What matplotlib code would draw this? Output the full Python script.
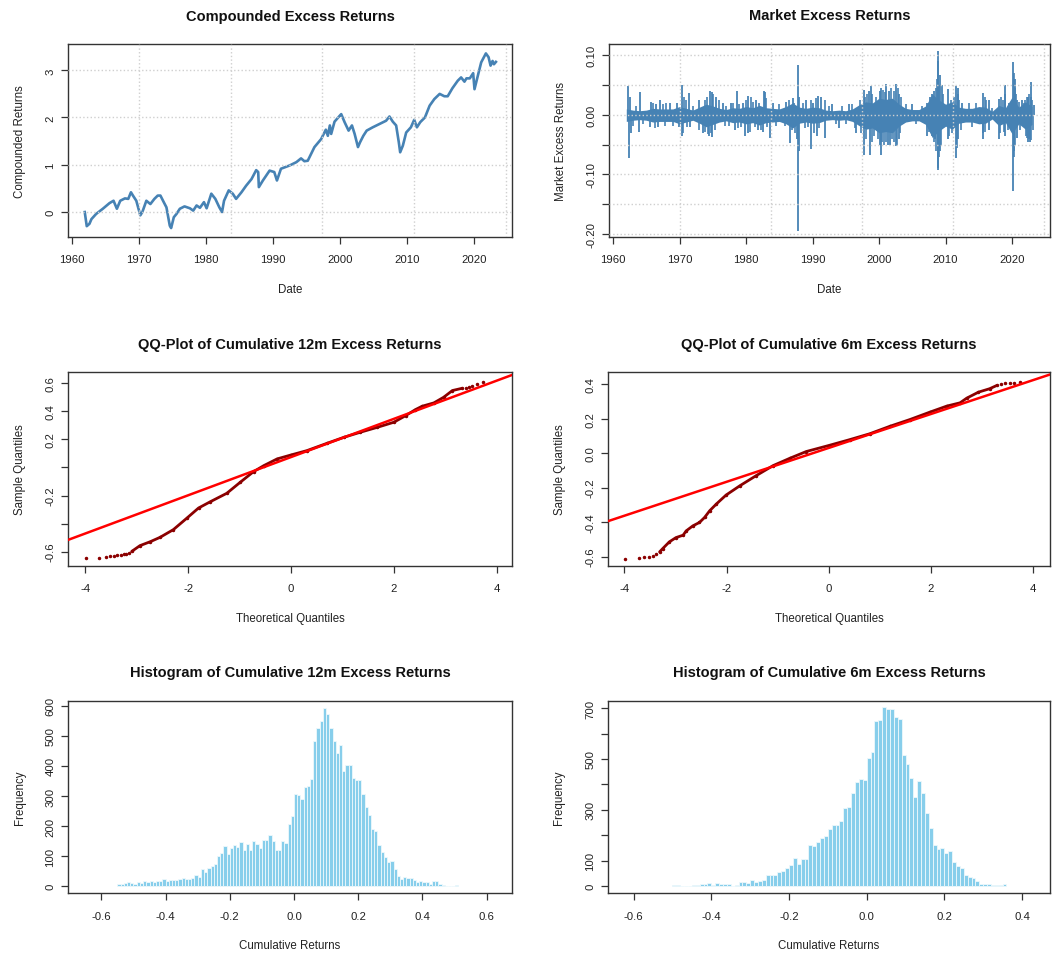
import matplotlib
matplotlib.use('Agg')
import matplotlib.pyplot as plt
import numpy as np

plt.rcParams['font.family'] = ['Liberation Sans', 'DejaVu Sans']
plt.rcParams['axes.unicode_minus'] = False

# ---- compounded excess returns ----
comp_year = [1961.9, 1962.2, 1962.6, 1962.9, 1963.6, 1964.6, 1965.6, 1966.2, 1966.7, 1967.2,
             1967.9, 1968.4, 1968.8, 1969.1, 1969.6, 1970.2, 1970.5, 1971.1, 1971.7, 1972.3,
             1972.8, 1973.2, 1973.7, 1974.1, 1974.6, 1974.8, 1975.2, 1975.6, 1976.1, 1976.8,
             1977.6, 1978.1, 1978.6, 1979.1, 1979.7, 1980.1, 1980.8, 1981.4, 1982.0, 1982.4,
             1982.7, 1983.4, 1984.0, 1984.5, 1985.3, 1986.0, 1986.8, 1987.5, 1987.8, 1987.9,
             1988.5, 1989.5, 1990.2, 1990.6, 1991.2, 1992.5, 1993.5, 1994.2, 1994.7, 1995.2,
             1996.2, 1997.2, 1997.9, 1998.2, 1998.5, 1998.7, 1999.2, 2000.0, 2000.2, 2000.7,
             2001.3, 2001.8, 2002.2, 2002.7, 2003.0, 2003.5, 2004.0, 2004.9, 2005.9, 2006.9,
             2007.4, 2007.9, 2008.4, 2008.8, 2009.0, 2009.4, 2009.9, 2010.6, 2011.1, 2011.5,
             2012.0, 2012.7, 2013.4, 2014.1, 2014.9, 2015.6, 2016.1, 2016.8, 2017.6, 2018.1,
             2018.6, 2018.9, 2019.4, 2019.9, 2020.1, 2020.5, 2021.1, 2021.8, 2022.2, 2022.5,
             2022.8, 2023.0, 2023.3]
comp_val = [-0.01, -0.31, -0.26, -0.16, -0.05, 0.06, 0.18, 0.23, 0.06, 0.23,
            0.28, 0.27, 0.41, 0.34, 0.23, -0.08, -0.01, 0.23, 0.16, 0.27,
            0.34, 0.34, 0.20, 0.09, -0.30, -0.35, -0.12, -0.05, 0.06, 0.11,
            0.07, 0.02, 0.13, 0.08, 0.20, 0.07, 0.38, 0.27, 0.09, -0.01,
            0.23, 0.45, 0.38, 0.27, 0.41, 0.55, 0.69, 0.88, 0.84, 0.52,
            0.66, 0.87, 0.84, 0.66, 0.91, 0.98, 1.05, 1.13, 1.07, 1.08,
            1.37, 1.54, 1.74, 1.61, 1.83, 1.65, 1.91, 2.04, 2.07, 1.90,
            1.72, 1.83, 1.65, 1.37, 1.47, 1.61, 1.72, 1.79, 1.86, 1.93,
            2.02, 1.91, 1.83, 1.47, 1.26, 1.40, 1.68, 1.79, 1.95, 1.79,
            1.90, 2.00, 2.25, 2.39, 2.50, 2.45, 2.45, 2.62, 2.78, 2.85,
            2.76, 2.83, 2.83, 2.94, 2.60, 2.83, 3.17, 3.36, 3.28, 3.10,
            3.20, 3.13, 3.18]

# ---- market excess returns: typical daily band per year + visible spikes ----
band_year = list(range(1962, 2024))
band_hi = [.010, .008, .007, .008, .011, .010, .010, .010, .014, .011, .008, .013, .018, .015, .011,
           .009, .012, .011, .014, .012, .016, .012, .011, .010, .014, .020, .013, .011, .013, .012,
           .008, .007, .008, .007, .010, .017, .022, .020, .028, .026, .028, .018, .011, .009, .009,
           .015, .035, .025, .018, .022, .013, .011, .011, .014, .013, .006, .016, .012, .030, .013,
           .022, .014]
band_lo = [-.011, -.009, -.008, -.009, -.012, -.011, -.011, -.011, -.015, -.012, -.009, -.014, -.020,
           -.016, -.012, -.010, -.013, -.012, -.015, -.013, -.017, -.013, -.012, -.011, -.015, -.022,
           -.014, -.012, -.014, -.013, -.009, -.008, -.009, -.008, -.011, -.018, -.024, -.022, -.030,
           -.028, -.030, -.019, -.012, -.010, -.010, -.016, -.038, -.027, -.019, -.024, -.014, -.012,
           -.012, -.015, -.014, -.007, -.018, -.013, -.032, -.015, -.024, -.016]
# large spikes
spike_date = [1962.3, 1962.6, 1964.0, 1965.7, 1966.5, 1967.0, 1968.5, 1969.6, 1970.4, 1971.5,
              1973.0, 1974.6, 1974.9, 1975.5, 1976.5, 1977.8, 1978.6, 1979.5, 1980.3, 1981.5,
              1982.7, 1982.9, 1984.0, 1986.0, 1987.0, 1987.8, 1988.0, 1989.0, 1990.0, 1990.8,
              1991.2, 1993.0, 1995.5, 1997.8, 1998.5, 1998.8, 2000.1, 2000.3, 2001.0, 2001.5,
              2002.6, 2003.0, 2005.0, 2007.2, 2007.6, 2008.0, 2008.3, 2008.8, 2008.9, 2009.2,
              2009.4, 2010.4, 2011.6, 2011.9, 2012.5, 2015.6, 2016.5, 2018.1, 2018.9, 2019.5,
              2020.2, 2020.4, 2020.8, 2021.5, 2022.4, 2022.9, 2023.3,
              1962.4, 1962.7, 1963.9, 1965.5, 1966.7, 1969.9, 1970.4, 1971.6, 1973.5, 1974.5,
              1974.9, 1978.3, 1979.8, 1980.3, 1981.8, 1982.5, 1983.6, 1986.6, 1987.6, 1987.8,
              1988.0, 1989.8, 1990.7, 1991.8, 1994.0, 1996.6, 1997.8, 1998.7, 2000.2, 2000.3,
              2001.3, 2001.7, 2002.5, 2003.0, 2007.2, 2008.4, 2008.8, 2008.9, 2009.1, 2010.4,
              2011.6, 2011.8, 2015.6, 2016.5, 2018.1, 2018.9, 2020.2, 2020.3, 2020.7, 2022.4,
              2022.7]
spike_val = [0.048, 0.030, 0.038, 0.022, 0.018, 0.025, 0.020, 0.020, 0.051, 0.036,
             0.025, 0.040, 0.038, 0.030, 0.020, 0.020, 0.040, 0.020, 0.032, 0.025,
             0.040, 0.038, 0.020, 0.022, 0.028, 0.083, 0.030, 0.025, 0.020, 0.032,
             0.030, 0.018, 0.018, 0.042, 0.040, 0.048, 0.040, 0.045, 0.052, 0.040,
             0.052, 0.035, 0.018, 0.020, 0.030, 0.035, 0.040, 0.107, 0.090, 0.067,
             0.050, 0.043, 0.048, 0.045, 0.020, 0.036, 0.025, 0.026, 0.050, 0.020,
             0.089, 0.060, 0.025, 0.025, 0.030, 0.055, 0.017,
             -0.072, -0.030, -0.028, -0.020, -0.020, -0.020, -0.035, -0.020, -0.030, -0.035,
             -0.037, -0.025, -0.035, -0.030, -0.025, -0.028, -0.038, -0.048, -0.040, -0.195,
             -0.060, -0.058, -0.035, -0.038, -0.022, -0.030, -0.068, -0.068, -0.050, -0.068,
             -0.050, -0.050, -0.052, -0.040, -0.035, -0.040, -0.092, -0.090, -0.060, -0.040,
             -0.072, -0.040, -0.040, -0.025, -0.040, -0.035, -0.128, -0.060, -0.038, -0.045,
             -0.045]
# medium spikes that roughen the band edge
med_date = [1963.5, 1966.0, 1967.5, 1968.0, 1970.7, 1971.0, 1972.0, 1973.8, 1974.2, 1975.0,
            1976.0, 1977.0, 1978.0, 1979.0, 1980.0, 1980.8, 1981.0, 1982.0, 1983.0, 1985.0,
            1986.5, 1987.2, 1988.5, 1989.8, 1990.5, 1991.8, 1992.5, 1994.5, 1996.0, 1997.2,
            1997.9, 1998.2, 1999.0, 1999.5, 2000.6, 2000.9, 2001.8, 2002.3, 2002.8, 2003.3,
            2004.0, 2006.5, 2007.8, 2008.5, 2008.7, 2009.0, 2009.6, 2010.8, 2011.3, 2011.8,
            2012.0, 2013.5, 2014.5, 2015.9, 2016.1, 2017.0, 2018.3, 2018.7, 2019.0, 2020.3,
            2020.5, 2020.6, 2021.0, 2021.8, 2022.0, 2022.2, 2022.6, 2022.8, 2023.0,
            1963.0, 1964.5, 1966.3, 1967.8, 1969.0, 1970.6, 1971.2, 1973.0, 1973.9, 1974.3,
            1974.7, 1975.3, 1976.8, 1977.5, 1978.8, 1979.2, 1980.6, 1981.3, 1982.2, 1983.2,
            1984.5, 1985.8, 1986.9, 1987.4, 1988.8, 1989.3, 1990.2, 1991.0, 1993.5, 1995.0,
            1996.4, 1997.3, 1998.0, 1998.9, 1999.3, 1999.8, 2000.5, 2000.8, 2001.1, 2001.9,
            2002.2, 2002.7, 2003.2, 2005.5, 2007.5, 2007.9, 2008.2, 2008.6, 2008.95, 2009.3,
            2010.5, 2010.9, 2011.7, 2012.3, 2014.0, 2015.7, 2016.0, 2018.2, 2018.8, 2019.4,
            2020.35, 2020.5, 2021.2, 2022.1, 2022.3, 2022.5, 2022.8, 2023.2]
med_val = [0.015, 0.020, 0.018, 0.020, 0.030, 0.025, 0.015, 0.025, 0.030, 0.035,
           0.025, 0.015, 0.020, 0.018, 0.025, 0.030, 0.022, 0.020, 0.028, 0.018,
           0.025, 0.020, 0.020, 0.025, 0.028, 0.025, 0.015, 0.015, 0.018, 0.025,
           0.030, 0.035, 0.035, 0.030, 0.042, 0.038, 0.045, 0.040, 0.045, 0.030,
           0.018, 0.015, 0.025, 0.045, 0.060, 0.050, 0.035, 0.025, 0.030, 0.035,
           0.025, 0.020, 0.020, 0.030, 0.025, 0.012, 0.030, 0.025, 0.035, 0.070,
           0.045, 0.035, 0.022, 0.020, 0.025, 0.030, 0.035, 0.030, 0.025,
           -0.018, -0.015, -0.022, -0.018, -0.018, -0.030, -0.020, -0.025, -0.028, -0.032,
           -0.030, -0.025, -0.018, -0.018, -0.022, -0.020, -0.028, -0.020, -0.025, -0.020,
           -0.018, -0.018, -0.025, -0.030, -0.022, -0.020, -0.030, -0.022, -0.015, -0.015,
           -0.022, -0.030, -0.040, -0.045, -0.035, -0.040, -0.045, -0.050, -0.045, -0.040,
           -0.045, -0.050, -0.030, -0.015, -0.028, -0.035, -0.045, -0.060, -0.070, -0.050,
           -0.035, -0.030, -0.055, -0.025, -0.020, -0.030, -0.028, -0.030, -0.028, -0.025,
           -0.070, -0.050, -0.025, -0.035, -0.038, -0.040, -0.042, -0.025]
grid_days = [0, 5000, 10000, 15000, 20000]   # R grid() positions, days since 1970-01-01

# ---- QQ plots ----
qq12_theo = [-3.99, -3.73, -3.60, -3.52, -3.44, -3.38, -3.31, -3.26, -3.21, -3.16, -3.10,
             -2.94, -2.74, -2.55, -2.29, -2.03, -1.80, -1.57, -1.25, -0.99, -0.73, -0.53, -0.27,
             0.0, 0.31, 0.70, 1.03, 1.35, 1.68, 2.00, 2.23, 2.42, 2.55, 2.78, 2.97, 3.14, 3.33,
             3.40, 3.46, 3.53, 3.62, 3.74]
qq12_samp = [-0.648, -0.648, -0.636, -0.631, -0.629, -0.626, -0.621, -0.619, -0.617, -0.612, -0.598,
             -0.557, -0.529, -0.498, -0.443, -0.362, -0.289, -0.244, -0.184, -0.106, -0.030, 0.013, 0.061,
             0.089, 0.120, 0.172, 0.215, 0.251, 0.286, 0.322, 0.369, 0.412, 0.436, 0.460, 0.500, 0.548, 0.564,
             0.567, 0.571, 0.579, 0.595, 0.612]
qq12_line = (0.074, 0.136)   # intercept, slope
qq6_theo = [-3.98, -3.72, -3.61, -3.52, -3.44, -3.38, -3.31,
            -3.25, -3.12, -2.99, -2.85, -2.79, -2.66, -2.53, -2.43, -2.33, -2.20, -2.01, -1.74,
            -1.42, -1.09, -0.76, -0.44, 0.0, 0.41, 0.80, 1.20, 1.59, 1.98, 2.31, 2.57, 2.70,
            2.93, 3.15, 3.29, 3.38, 3.45, 3.55, 3.63, 3.74]
qq6_samp = [-0.612, -0.608, -0.604, -0.600, -0.597, -0.587, -0.573,
            -0.554, -0.515, -0.490, -0.476, -0.451, -0.422, -0.402, -0.373, -0.334, -0.295, -0.243, -0.189,
            -0.130, -0.072, -0.029, 0.010, 0.045, 0.079, 0.113, 0.157, 0.196, 0.239, 0.274, 0.293, 0.320,
            0.355, 0.375, 0.394, 0.404, 0.408, 0.410, 0.410, 0.414]
qq6_line = (0.031, 0.0985)

# ---- histograms: bin width 0.01 ----
hist12_start = -0.55
hist12_counts = [7, 8, 11, 13, 10, 7, 13, 11, 17, 14, 17, 13, 17, 17, 23, 16, 20, 22, 22, 25,
                 29, 23, 23, 27, 38, 32, 56, 46, 60, 66, 74, 100, 111, 133, 108, 128, 137, 130, 148, 119,
                 140, 120, 149, 140, 128, 152, 152, 171, 149, 121, 121, 149, 143, 207, 235, 307,
                 302, 290, 329, 333, 357, 482, 526, 548, 593, 571, 527, 482, 443, 470, 384, 403, 403,
                 360, 353, 353, 305, 262, 237, 190, 183, 137, 114, 98, 81, 83, 58, 34, 23, 30, 27, 27,
                 20, 13, 17, 13, 13, 8, 17, 17, 8, 4, 2, 0, 0, 3]
hist6_start = -0.50
hist6_counts = [5, 5, 0, 0, 0, 5, 5, 9, 9, 13, 6, 13, 9, 9, 9, 0, 5, 17, 17, 13,
                25, 17, 21, 25, 42, 42, 42, 56, 60, 71, 85, 111, 88, 107, 107, 161, 157, 173, 191, 198,
                223, 241, 241, 257, 306, 310, 366, 411, 421, 418, 503, 526, 648, 654, 703, 695, 695, 665,
                658, 517, 480, 425, 349, 415, 368, 289, 229, 162, 147, 151, 131, 140, 94, 81, 71, 44,
                37, 34, 20, 9, 9, 9, 5, 5, 5, 9]
bin_w = 0.01

W, H = 1063, 954
fig = plt.figure(figsize=(W / 100, H / 100), dpi=100)


def make_ax(l, r, t, b):
    return fig.add_axes([l / W, 1 - b / H, (r - l) / W, (b - t) / H])


def r_style(ax, title, xlab, ylab):
    pos = ax.get_position()
    w, h = pos.width * W, pos.height * H
    for sp in ax.spines.values():
        sp.set_color('#333333')
        sp.set_linewidth(1.0)
    ax.tick_params(direction='out', length=5, width=0.9, color='#333333',
                   labelcolor='#222222', labelsize=8.2)
    ax.tick_params(axis='x', pad=7.5)
    ax.tick_params(axis='y', pad=4)
    ax.text(0.5, 1 + 28.5 / h, title, transform=ax.transAxes, ha='center', va='center',
            fontsize=10.5, fontweight='bold', color='#111111')
    ax.set_xlabel(xlab, fontsize=8.3, color='#222222')
    ax.xaxis.set_label_coords(0.5, -52 / h)
    ax.xaxis.label.set_va('center')
    ax.set_ylabel(ylab, fontsize=8.3, color='#222222')
    ax.yaxis.set_label_coords(-48.5 / w, 0.5)
    ax.yaxis.label.set_va('center')


def yticks(ax, vals, labels):
    ax.set_yticks(vals, labels=labels, rotation=90, va='center')


steel = '#4682B4'
grid_kw = dict(color='#cfcfcf', linestyle=':', linewidth=1, zorder=3)
grid_years = [1970 + d / 365.25 for d in grid_days]
year_ticks = [1960, 1970, 1980, 1990, 2000, 2010, 2020]

# 1. compounded
ax = make_ax(68, 512, 45, 238)
ax.plot(comp_year, comp_val, color=steel, lw=1.9, zorder=2)
ax.set_xlim(1959.4, 2025.7)
ax.set_ylim(-0.54, 3.56)
ax.set_xticks(year_ticks)
yticks(ax, [0, 1, 2, 3], ['0', '1', '2', '3'])
for g in grid_years:
    ax.axvline(g, **grid_kw)
for g in [0, 1, 2, 3]:
    ax.axhline(g, **grid_kw)
r_style(ax, 'Compounded Excess Returns', 'Date', 'Compounded Returns')

# 2. market excess returns
ax = make_ax(609, 1050, 45, 238)
ax.fill_between(band_year, band_lo, band_hi, color=steel, lw=0, zorder=2)
ax.vlines(med_date, 0, med_val, color=steel, lw=1.2, zorder=2)
ax.vlines(spike_date, 0, spike_val, color=steel, lw=1.3, zorder=2)
ax.set_xlim(1959.4, 2025.7)
ax.set_ylim(-0.205, 0.119)
ax.set_xticks(year_ticks)
mk_ticks = [-0.20, -0.15, -0.10, -0.05, 0.0, 0.05, 0.10]
yticks(ax, mk_ticks, ['-0.20', '', '-0.10', '', '0.00', '', '0.10'])
for g in grid_years:
    ax.axvline(g, **grid_kw)
for g in mk_ticks:
    ax.axhline(g, **grid_kw)
r_style(ax, 'Market Excess Returns', 'Date', 'Market Excess Returns')


def qq(ax, theo, samp, line, lo_n, hi_n):
    ax.plot(theo[lo_n:len(theo) - hi_n], samp[lo_n:len(samp) - hi_n], color='#8B0000',
            lw=2.0, solid_capstyle='round', zorder=2)
    ax.plot(theo, samp, 'o', color='#8B0000', ms=1.5, zorder=2)
    ax.axline((0, line[0]), slope=line[1], color='#ff0000', lw=1.8, zorder=3)
    ax.set_xticks([-4, -2, 0, 2, 4], labels=['-4', '-2', '0', '2', '4'])


# 3. QQ 12m
ax = make_ax(68, 512, 373, 567)
qq(ax, qq12_theo, qq12_samp, qq12_line, 10, 5)
ax.set_xlim(-4.34, 4.30)
ax.set_ylim(-0.702, 0.680)
yticks(ax, [-0.6, -0.4, -0.2, 0.0, 0.2, 0.4, 0.6], ['-0.6', '', '-0.2', '', '0.2', '0.4', '0.6'])
r_style(ax, 'QQ-Plot of Cumulative 12m Excess Returns', 'Theoretical Quantiles', 'Sample Quantiles')

# 4. QQ 6m
ax = make_ax(608, 1050, 373, 567)
qq(ax, qq6_theo, qq6_samp, qq6_line, 6, 5)
ax.set_xlim(-4.32, 4.33)
ax.set_ylim(-0.655, 0.472)
yticks(ax, [-0.6, -0.4, -0.2, 0.0, 0.2, 0.4], ['-0.6', '-0.4', '-0.2', '0.0', '0.2', '0.4'])
r_style(ax, 'QQ-Plot of Cumulative 6m Excess Returns', 'Theoretical Quantiles', 'Sample Quantiles')


def hist(ax, start, counts):
    left = [round(start + i * bin_w, 2) for i in range(len(counts))]
    ax.bar(left, counts, width=bin_w, align='edge', color='#87CEEB', edgecolor='#eef8fc', lw=0.6)


# 5. hist 12m
ax = make_ax(68, 512, 701.7, 894.3)
hist(ax, hist12_start, hist12_counts)
ax.set_xlim(-0.704, 0.679)
ax.set_ylim(-23.5, 616.5)
ax.set_xticks([-0.6, -0.4, -0.2, 0.0, 0.2, 0.4, 0.6],
              labels=['-0.6', '-0.4', '-0.2', '0.0', '0.2', '0.4', '0.6'])
yticks(ax, [0, 100, 200, 300, 400, 500, 600], ['0', '100', '200', '300', '400', '500', '600'])
r_style(ax, 'Histogram of Cumulative 12m Excess Returns', 'Cumulative Returns', 'Frequency')

# 6. hist 6m
ax = make_ax(608, 1050, 701.7, 894.3)
hist(ax, hist6_start, hist6_counts)
ax.set_xlim(-0.666, 0.472)
ax.set_ylim(-28, 729)
ax.set_xticks([-0.6, -0.4, -0.2, 0.0, 0.2, 0.4], labels=['-0.6', '-0.4', '-0.2', '0.0', '0.2', '0.4'])
yticks(ax, [0, 100, 200, 300, 400, 500, 600, 700], ['0', '100', '', '300', '', '500', '', '700'])
r_style(ax, 'Histogram of Cumulative 6m Excess Returns', 'Cumulative Returns', 'Frequency')

fig.savefig('out.png', dpi=100, facecolor='white')
